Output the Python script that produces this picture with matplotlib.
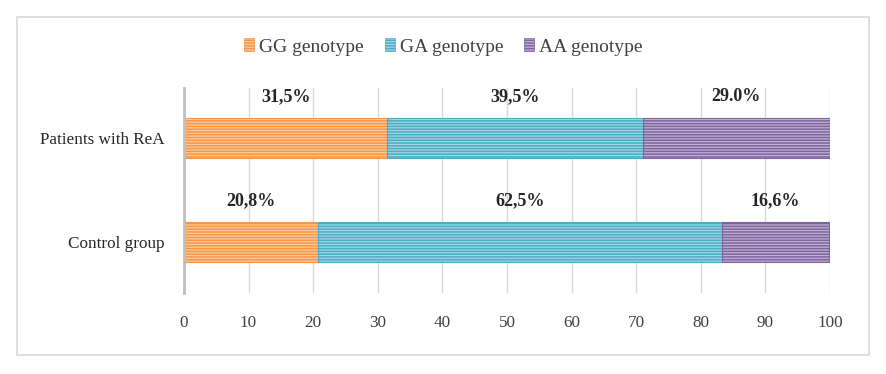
import matplotlib
matplotlib.use("Agg")
import matplotlib.pyplot as plt
from matplotlib.patches import Rectangle, Patch
import matplotlib.colors as mcolors
import numpy as np

plt.rcParams['font.family'] = ['Liberation Serif', 'DejaVu Serif']
plt.rcParams['hatch.linewidth'] = 1.1

groups = ["Control group", "Patients with ReA"]
series = ["GG genotype", "GA genotype", "AA genotype"]
gg = [20.8, 31.5]
ga = [62.5, 39.5]
aa = [16.6, 29.0]
labels_gg = ["20,8%", "31,5%"]
labels_ga = ["62,5%", "39,5%"]
labels_aa = ["16,6%", "29.0%"]
xticks = [0, 10, 20, 30, 40, 50, 60, 70, 80, 90, 100]

colors = ["#F79646", "#4BACC6", "#8064A2"]

def light(c, f=0.5):
    r, g, b = mcolors.to_rgb(c)
    return (r + (1 - r) * f, g + (1 - g) * f, b + (1 - b) * f)

fig = plt.figure(figsize=(8.87, 3.74), dpi=100)
fig.patches.append(Rectangle((17/887, 1-355/374), (869-17)/887, (355-17)/374,
                             transform=fig.transFigure, fill=False,
                             edgecolor="#D9D9D9", linewidth=1.2))
ax = fig.add_axes([184/887, 1-293/374, (830-184)/887, (293-88)/374])

y = np.arange(len(groups))
vals = [gg, ga, aa]
labs = [labels_gg, labels_ga, labels_aa]
left = np.zeros(len(groups))
handles = []
for i, (v, c, name) in enumerate(zip(vals, colors, series)):
    ax.barh(y, v, left=left, height=0.385, color=light(c), edgecolor=c,
            linewidth=0.8, hatch="-" * 6, zorder=3)
    for j in range(len(groups)):
        cx = left[j] + v[j] / 2
        ax.text(cx, y[j] + 0.40, labs[i][j], ha="center", va="center",
                fontsize=13, fontweight="bold", color="#262626")
    left = left + np.array(v)
    handles.append(Patch(facecolor=light(c), edgecolor=c, hatch="-" * 6,
                         linewidth=0.5, label=name))

ax.set_xlim(0, 100)
ax.set_ylim(-0.49, 1.48)
ax.set_yticks(y)
ax.set_yticklabels(groups, fontsize=12.3, color="#262626")
ax.set_xticks(xticks)
ax.set_xticklabels([str(t) for t in xticks], fontsize=12.3, color="#404040")
ax.tick_params(axis="both", length=0)
ax.tick_params(axis="x", pad=16)
ax.tick_params(axis="y", pad=14)
ax.grid(axis="x", color="#D9D9D9", linewidth=1.0, zorder=0)
for s in ["top", "right", "bottom"]:
    ax.spines[s].set_visible(False)
ax.spines["left"].set_color("#BFBFBF")
ax.spines["left"].set_linewidth(2.0)
ax.spines["left"].set_zorder(4)

fig.legend(handles=handles, loc="center", bbox_to_anchor=(0.5, 1-47/374),
           ncol=3, frameon=False, fontsize=14, handlelength=0.5,
           handleheight=0.6, handletextpad=0.25, columnspacing=1.1,
           labelcolor="#404040")

fig.savefig("out.png", dpi=100)
